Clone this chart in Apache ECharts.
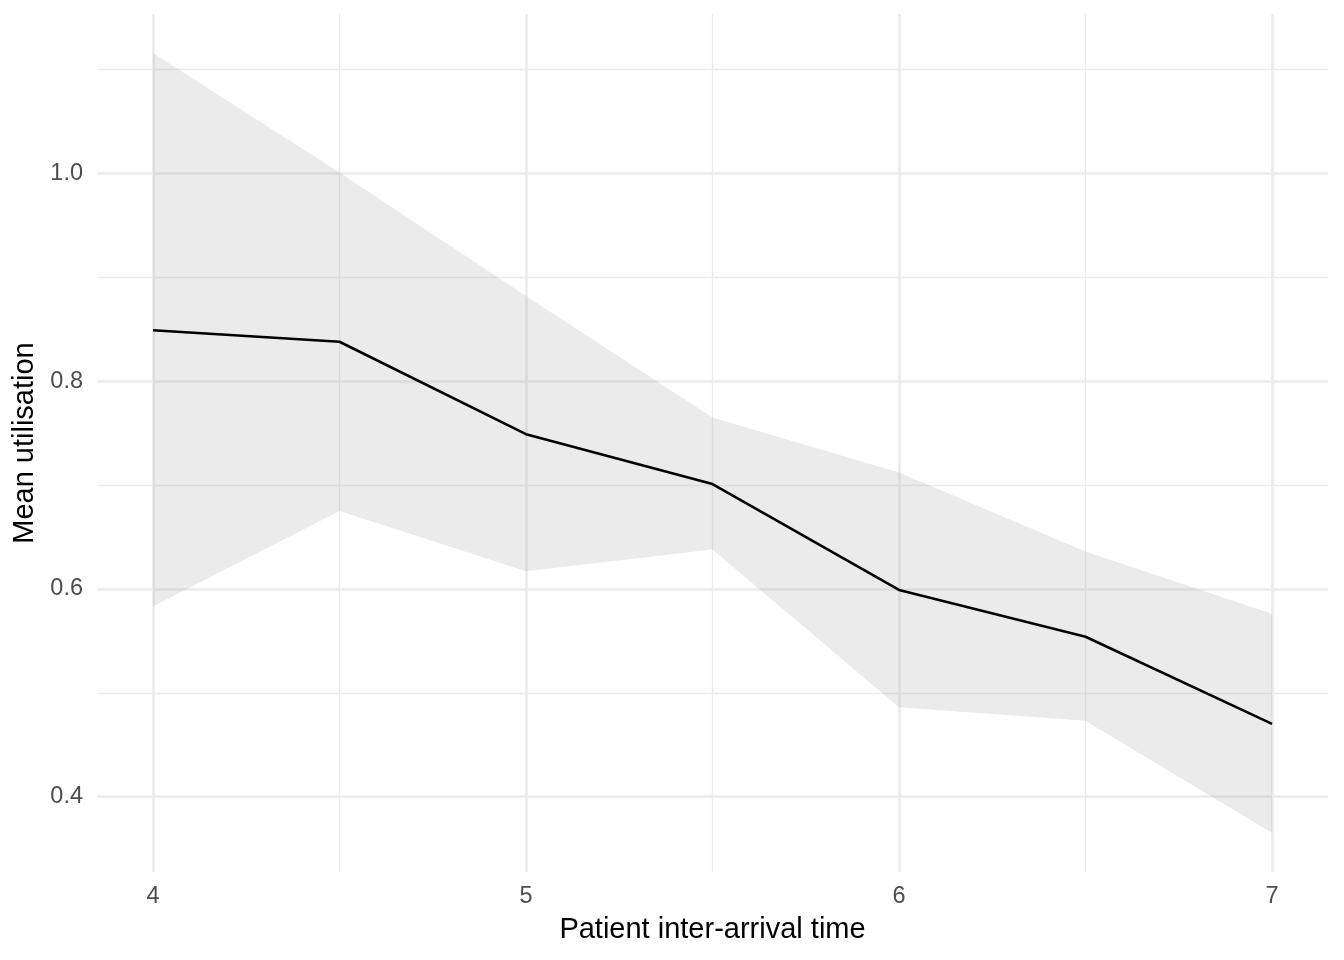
<!DOCTYPE html>
<html>
<head>
<meta charset="utf-8">
<script src="https://cdn.jsdelivr.net/npm/echarts@6/dist/echarts.min.js"></script>
<style>html,body{margin:0;padding:0;background:#fff}#c{width:1344px;height:960px}</style>
</head>
<body>
<div id="c"></div>
<script>
// Data
const interArrival = [4, 4.5, 5, 5.5, 6, 6.5, 7];
const meanUtil     = [0.849, 0.838, 0.749, 0.701, 0.599, 0.554, 0.470];
const upperCI      = [1.116, 1.001, 0.882, 0.765, 0.712, 0.636, 0.576];
const lowerCI      = [0.583, 0.675, 0.617, 0.638, 0.486, 0.473, 0.365];
const xMajorTicks  = [4, 5, 6, 7];
const xMinorTicks  = [4.5, 5.5, 6.5];
const yMajorTicks  = [0.4, 0.6, 0.8, 1.0];
const yMinorTicks  = [0.5, 0.7, 0.9, 1.1];

// ggplot-like 5% expansion
const yLo = Math.min(...lowerCI), yHi = Math.max(...upperCI);
const yPad = (yHi - yLo) * 0.05;
const xLo = Math.min(...interArrival), xHi = Math.max(...interArrival);
const xPad = (xHi - xLo) * 0.05;

const FONT = 'Liberation Sans';
const grid = '#EBEBEB';

const gridLines = [];
yMajorTicks.forEach(v => gridLines.push({yAxis: v, lineStyle: {width: 2.6, color: grid}}));
yMinorTicks.forEach(v => gridLines.push({yAxis: v, lineStyle: {width: 1.3, color: grid}}));
xMajorTicks.forEach(v => gridLines.push({xAxis: v, lineStyle: {width: 2.6, color: grid}}));
xMinorTicks.forEach(v => gridLines.push({xAxis: v, lineStyle: {width: 1.3, color: grid}}));

const chart = echarts.init(document.getElementById('c'), null, {renderer: 'canvas'});
chart.setOption({
  animation: false,
  backgroundColor: '#ffffff',
  grid: {left: 97, right: 16, top: 14, bottom: 88, containLabel: false},
  xAxis: {
    type: 'value',
    min: xLo - xPad, max: xHi + xPad,
    name: 'Patient inter-arrival time',
    nameLocation: 'middle',
    nameGap: 43,
    nameTextStyle: {fontFamily: FONT, fontSize: 29, color: '#000000'},
    axisLine: {show: false}, axisTick: {show: false}, splitLine: {show: false},
    axisLabel: {customValues: xMajorTicks, fontFamily: FONT, fontSize: 23.5, color: '#4D4D4D', margin: 13,
      formatter: v => String(v)}
  },
  yAxis: {
    type: 'value',
    min: yLo - yPad, max: yHi + yPad,
    name: 'Mean utilisation',
    nameLocation: 'middle',
    nameGap: 52,
    nameTextStyle: {fontFamily: FONT, fontSize: 29, color: '#000000'},
    axisLine: {show: false}, axisTick: {show: false}, splitLine: {show: false},
    axisLabel: {customValues: yMajorTicks, fontFamily: FONT, fontSize: 23.5, color: '#4D4D4D', margin: 14,
      formatter: v => v.toFixed(1)}
  },
  series: [
    {
      type: 'line', name: 'grid', data: [], z: 1, silent: true, symbol: 'none',
      markLine: {silent: true, z: 1, symbol: ['none', 'none'], label: {show: false}, animation: false,
        lineStyle: {type: 'solid'}, emphasis: {disabled: true}, data: gridLines}
    },
    {
      type: 'custom', name: 'ci', z: 6, silent: true,
      data: interArrival.map((x, i) => [x, lowerCI[i], upperCI[i]]),
      encode: {x: 0, y: [1, 2]},
      renderItem: function (params, api) {
        if (params.dataIndex !== 0) return null;
        const pts = [];
        for (let i = 0; i < interArrival.length; i++) pts.push(api.coord([interArrival[i], upperCI[i]]));
        for (let i = interArrival.length - 1; i >= 0; i--) pts.push(api.coord([interArrival[i], lowerCI[i]]));
        return {type: 'polygon', shape: {points: pts}, style: {fill: 'rgba(153,153,153,0.2)', stroke: null}};
      }
    },
    {
      type: 'line', name: 'mean', z: 8, silent: true, symbol: 'none',
      data: interArrival.map((x, i) => [x, meanUtil[i]]),
      lineStyle: {color: '#000000', width: 2.6}
    }
  ]
});
</script>
</body>
</html>
